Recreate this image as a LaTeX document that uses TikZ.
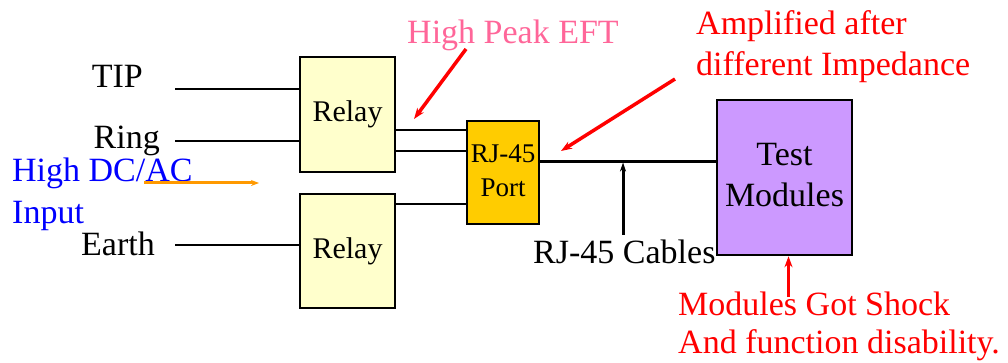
\documentclass[tikz,border=0pt]{standalone}
\usepackage{fontspec}
\setmainfont{Liberation Serif}
\usetikzlibrary{arrows.meta}
\definecolor{relayfill}{RGB}{255,255,204}
\definecolor{rjfill}{RGB}{255,204,0}
\definecolor{testfill}{RGB}{204,153,255}
\definecolor{pinktxt}{RGB}{255,102,153}
\definecolor{orangearr}{RGB}{255,153,0}
\tikzset{
  box/.style={draw=black, line width=2.5pt, inner sep=0pt, align=center},
  wire/.style={draw=black, line width=2.5pt},
  big/.style={font=\fontsize{34}{41}\selectfont, inner sep=0pt},
  redarr/.style={draw=red, line width=3.5pt, -{Stealth[length=11pt,width=8pt]}},
  blackarr/.style={draw=black, line width=3pt, -{Stealth[length=9pt,width=6pt]}},
}
\begin{document}
\begin{tikzpicture}[x=1pt,y=-1pt]
\useasboundingbox (0,0) rectangle (1008,363);
% boxes
\node[box, fill=relayfill, minimum width=95pt, minimum height=115pt, font=\fontsize{30}{34}\selectfont] (relay1) at (347.5,114.5) {\raisebox{-4pt}{Relay}};
\node[box, fill=relayfill, minimum width=95pt, minimum height=114pt, font=\fontsize{30}{34}\selectfont] (relay2) at (347.5,251) {\raisebox{-3pt}{Relay}};
\node[box, fill=rjfill, minimum width=72pt, minimum height=103pt, font=\fontsize{27}{34}\selectfont] (rj) at (503,172.5) {\raisebox{-3pt}{\begin{tabular}{@{}c@{}}RJ-45\\Port\end{tabular}}};
\node[box, fill=testfill, minimum width=135pt, minimum height=155pt, font=\fontsize{34}{41}\selectfont] (test) at (784.5,177.5) {\raisebox{-4pt}{\begin{tabular}{@{}c@{}}Test\\Modules\end{tabular}}};
% left labels
\node[big, anchor=base east] (tip) at (143,88) {TIP};
\node[big, anchor=base east] (ring) at (160,149) {Ring};
\node[big, anchor=base east] (earth) at (155,255) {Earth};
\coordinate (tipend) at (175,89);
\coordinate (ringend) at (175,141);
\coordinate (earthend) at (175,245);
\draw[wire] (tipend) -- (tipend -| relay1.west);
\draw[wire] (ringend) -- (ringend -| relay1.west);
\draw[wire] (earthend) -- (earthend -| relay2.west);
% relay to rj
\draw[wire] (relay1.east |- {(0,130)}) -- (rj.west |- {(0,130)});
\draw[wire] (relay1.east |- {(0,151)}) -- (rj.west |- {(0,151)});
\draw[wire] (relay2.east |- {(0,204)}) -- (rj.west |- {(0,204)});
\draw[wire] (rj.east |- {(0,161.5)}) -- (test.west |- {(0,161.5)});
% input label
\node[big, text=blue, anchor=base west, align=left] (input) at (12,223) {High DC/AC\\Input};
\coordinate (oa) at (144,183);
\coordinate (ob) at (259,183);
\draw[draw=orangearr, line width=3pt, -{Stealth[length=8pt,width=6pt]}] (oa) -- (ob);
% EFT
\node[big, text=pinktxt, anchor=base west] (eft) at (407,44) {High Peak EFT};
\coordinate (eftarr) at (414,119);
\draw[redarr] (466,49) -- (eftarr);
% amplified
\node[big, text=red, anchor=base west, align=left] (amp) at (696,76) {Amplified after\\different Impedance};
\coordinate (amparr) at (561,151);
\draw[redarr] (675,79) -- (amparr);
% cables
\node[big, anchor=base west] (cables) at (533,263) {RJ-45 Cables};
\coordinate (cabtail) at (623,235);
\coordinate (cabhead) at (623,162.5);
\draw[blackarr] (cabtail) -- (cabhead);
% shock
\node[big, text=red, anchor=base west, align=left, font=\fontsize{34}{38}\selectfont] (shock) at (678,353) {Modules Got Shock\\And function disability.};
\coordinate (shocktail) at (788.5,297);
\draw[redarr] (shocktail) -- (test.south -| shocktail);
\end{tikzpicture}
\end{document}
